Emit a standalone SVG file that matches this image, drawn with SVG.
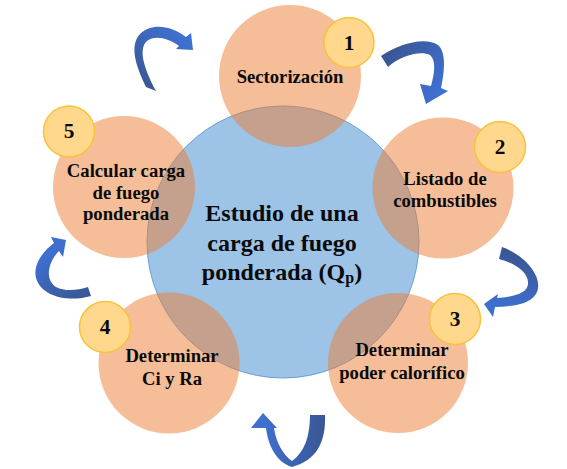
<svg xmlns="http://www.w3.org/2000/svg" width="567" height="469" viewBox="0 0 567 469">
<style>
.step{fill:#ED7D31;fill-opacity:0.5}
.badge{fill:#FFD88D;stroke:#F8C23A;stroke-width:1.5}
.t{font-family:'Liberation Serif','Times New Roman',serif;font-weight:700;fill:#0a0a0a;text-anchor:middle}
.s{font-size:18.67px}
.n{font-size:21.33px}
.c{font-size:24px}
</style>
<defs>
<linearGradient id="g1" gradientUnits="userSpaceOnUse" x1="151" y1="89" x2="190" y2="45"><stop offset="0" stop-color="#3A5897"/><stop offset="1" stop-color="#3E70D0"/></linearGradient>
<linearGradient id="g2" gradientUnits="userSpaceOnUse" x1="385" y1="62" x2="430" y2="98"><stop offset="0" stop-color="#3A5897"/><stop offset="1" stop-color="#3E70D0"/></linearGradient>
<linearGradient id="g3" gradientUnits="userSpaceOnUse" x1="501" y1="253" x2="490" y2="305"><stop offset="0" stop-color="#3A5897"/><stop offset="1" stop-color="#3E70D0"/></linearGradient>
<linearGradient id="g4" gradientUnits="userSpaceOnUse" x1="320" y1="420" x2="263" y2="420"><stop offset="0" stop-color="#3A5897"/><stop offset="1" stop-color="#3E70D0"/></linearGradient>
<linearGradient id="g5" gradientUnits="userSpaceOnUse" x1="90" y1="291" x2="60" y2="245"><stop offset="0" stop-color="#3A5897"/><stop offset="1" stop-color="#3E70D0"/></linearGradient>
</defs>
<g id="center">
<circle cx="283" cy="242" r="136" fill="#9DC3E6" stroke="#6A9FD6" stroke-width="1"/>
</g>
<g id="step1">
<circle class="step" cx="290" cy="76" r="71"/>
</g>
<g id="step2">
<circle class="step" cx="443" cy="188" r="70.5"/>
</g>
<g id="step3">
<circle class="step" cx="398" cy="363" r="70"/>
</g>
<g id="step4">
<circle class="step" cx="169" cy="363" r="70.5"/>
</g>
<g id="step5">
<circle class="step" cx="124" cy="187" r="71"/>
</g>
<g id="connectors">
<path fill="url(#g1)" d="M146,87 C136,66 129,46 140,34 C152,22 172,26 186,37 L191,33 L193,50 L176,49 L179,46 C168,38 155,35 147,41 C139,48 142,65 156,91 Z"/>
<path fill="url(#g2)" d="M381,56 C398,44 425,36 438,45 C446,52 445,70 441,88 L448,91 L426,104 L420,84 L431,86 C435,72 436,60 430,55 C420,50 400,56 388,67 Z"/>
<path fill="url(#g3)" d="M502,247 C525,255 545,278 536,294 C528,306 510,306 495,307 L493,317 L484,304 L498,294 L497,298 C512,297 527,294 528,284 C529,272 515,263 499,259 Z"/>
<path fill="url(#g4)" d="M325,415 C326,440 318,460 292,467 C276,462 268,445 266,428 L251,428 L263,413 L277,428 L274,428 C276,442 283,455 292,461 C305,452 310,435 310,415 Z"/>
<path fill="url(#g5)" d="M91,296 C70,302 42,298 36,278 C33,265 42,252 54,243 L51,237 L66,240 L63,257 L59,251 C50,260 43,278 56,287 C66,292 78,290 88,287 Z"/>
</g>
<g id="center-label">
<text class="t c" x="282" y="221">Estudio de una</text>
<text class="t c" x="282" y="251">carga de fuego</text>
<text class="t c" x="282" y="280">ponderada (Q<tspan font-size="16px" dy="3">p</tspan><tspan dy="-3">)</tspan></text>
</g>
<g id="label1">
<text class="t s" x="290" y="83">Sectorización</text>
<circle class="badge" cx="349" cy="42.5" r="25"/>
<text class="t n" x="349" y="50">1</text>
</g>
<g id="label2">
<text class="t s" x="445" y="185">Listado de</text>
<text class="t s" x="445" y="207">combustibles</text>
<circle class="badge" cx="500" cy="147" r="25.5"/>
<text class="t n" x="500" y="154">2</text>
</g>
<g id="label3">
<text class="t s" x="402" y="356">Determinar</text>
<text class="t s" x="402" y="379">poder calorífico</text>
<circle class="badge" cx="455" cy="319" r="25.5"/>
<text class="t n" x="455" y="326">3</text>
</g>
<g id="label4">
<text class="t s" x="172" y="362">Determinar</text>
<text class="t s" x="172" y="385">Ci y Ra</text>
<circle class="badge" cx="105" cy="327" r="25.5"/>
<text class="t n" x="105" y="334">4</text>
</g>
<g id="label5">
<text class="t s" x="126" y="177">Calcular carga</text>
<text class="t s" x="126" y="199">de fuego</text>
<text class="t s" x="126" y="220">ponderada</text>
<circle class="badge" cx="69" cy="131.5" r="25.5"/>
<text class="t n" x="69" y="138">5</text>
</g>
</svg>
